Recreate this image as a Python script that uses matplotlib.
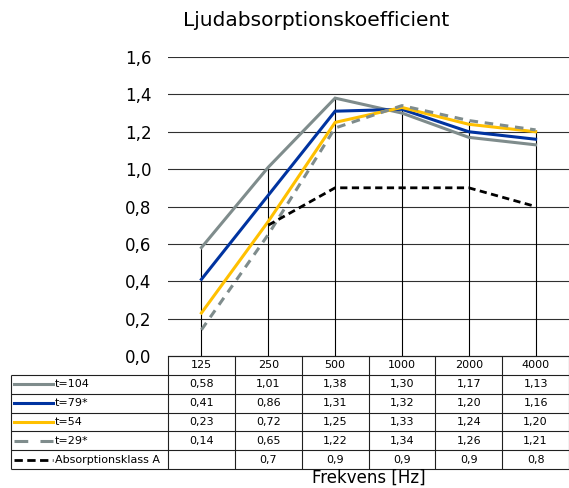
import numpy as np
import matplotlib.pyplot as plt
from matplotlib.ticker import FuncFormatter

freqs = ["125", "250", "500", "1000", "2000", "4000"]
t104 = [0.58, 1.01, 1.38, 1.30, 1.17, 1.13]
t79 = [0.41, 0.86, 1.31, 1.32, 1.20, 1.16]
t54 = [0.23, 0.72, 1.25, 1.33, 1.24, 1.20]
t29 = [0.14, 0.65, 1.22, 1.34, 1.26, 1.21]
klass_a = [np.nan, 0.7, 0.9, 0.9, 0.9, 0.8]
labels = ["t=104", "t=79*", "t=54", "t=29*", "Absorptionsklass A"]

series = [t104, t79, t54, t29, klass_a]
decimals = [2, 2, 2, 2, 1]
styles = [
    dict(color="#7f8c8c", lw=2.2, ls="-"),
    dict(color="#0033a0", lw=2.2, ls="-"),
    dict(color="#ffc000", lw=2.2, ls="-"),
    dict(color="#7f8c8c", lw=2.2, dashes=(2.8, 2.2)),
    dict(color="black", lw=2.0, dashes=(2.6, 1.6)),
]
# the little samples in the table use slightly different dash patterns
sample_dashes = [None, None, None, (4.5, 4.0), (3.0, 1.6)]

W, H = 569, 488
fig = plt.figure(figsize=(W / 100, H / 100), dpi=100)
plt.rcParams["font.family"] = "DejaVu Sans"

# pixel layout
px_left, px_right = 168, 569
px_top, px_zero = 57, 356
ax = fig.add_axes([px_left / W, 1 - px_zero / H, (px_right - px_left) / W, (px_zero - px_top) / H])

x = np.arange(len(freqs))
ax.set_xlim(-0.5, len(freqs) - 0.5)
ax.set_ylim(0, 1.6)
ax.set_yticks(np.arange(0, 1.61, 0.2))
ax.yaxis.set_major_formatter(FuncFormatter(lambda v, p: f"{v:.1f}".replace(".", ",")))
ax.tick_params(axis="y", length=0, pad=12, labelsize=12)
ax.set_xticks([])
for s in ["left", "right", "top"]:
    ax.spines[s].set_visible(False)
ax.spines["bottom"].set_color("black")
ax.spines["bottom"].set_linewidth(0.8)
ax.grid(axis="y", color="#303030", lw=0.8)
ax.set_axisbelow(True)

# drop lines
top_vals = np.nanmax(np.array(series, dtype=float), axis=0)
ax.vlines(x, 0, top_vals, color="black", lw=0.8, zorder=1)

for vals, st in zip(series, styles):
    ax.plot(x, vals, solid_joinstyle="miter", zorder=3, **st)

ax.set_title("Ljudabsorptionskoefficient", fontsize=14.5, pad=22, x=0.37)

# table underneath
px_tleft, px_tbottom = 11, 469
col_w = (px_right - px_left) / len(freqs)
lab_w = (px_left - px_tleft) / col_w
tab = fig.add_axes([px_tleft / W, 1 - px_tbottom / H, (px_right - px_tleft) / W, (px_tbottom - px_zero) / H])
nrows = len(labels) + 1
tab.set_xlim(-0.5 - lab_w, len(freqs) - 0.5)
tab.set_ylim(nrows, 0)
tab.axis("off")

lc = "#202020"
# header row
tab.hlines(0, -0.5, len(freqs) - 0.5, color=lc, lw=0.8)
for r in range(1, nrows + 1):
    tab.hlines(r, -0.5 - lab_w, len(freqs) - 0.5, color=lc, lw=0.8, clip_on=False)
for c in range(len(freqs) + 1):
    tab.vlines(c - 0.5, 0, nrows, color=lc, lw=0.8, clip_on=False)
tab.vlines(-0.5 - lab_w, 1, nrows, color=lc, lw=0.8, clip_on=False)

for c, f in enumerate(freqs):
    tab.text(c, 0.5, f, ha="center", va="center", fontsize=8)

for r, (lab, vals, st, d, sd) in enumerate(zip(labels, series, styles, decimals, sample_dashes), start=1):
    x0 = -0.5 - lab_w
    st = dict(st)
    if sd is not None:
        st["dashes"] = sd
    tab.plot([x0 + 0.05, x0 + 0.63], [r + 0.5, r + 0.5], clip_on=False, **st)
    tab.text(x0 + 0.66, r + 0.5, lab, ha="left", va="center", fontsize=8)
    for c, v in enumerate(vals):
        if not np.isnan(v):
            tab.text(c, r + 0.5, f"{v:.{d}f}".replace(".", ","), ha="center", va="center", fontsize=8)

fig.text((px_left + px_right) / 2 / W, 1 - 478 / H, "Frekvens [Hz]", ha="center", va="center", fontsize=12)

fig.savefig("out.png", dpi=100)
